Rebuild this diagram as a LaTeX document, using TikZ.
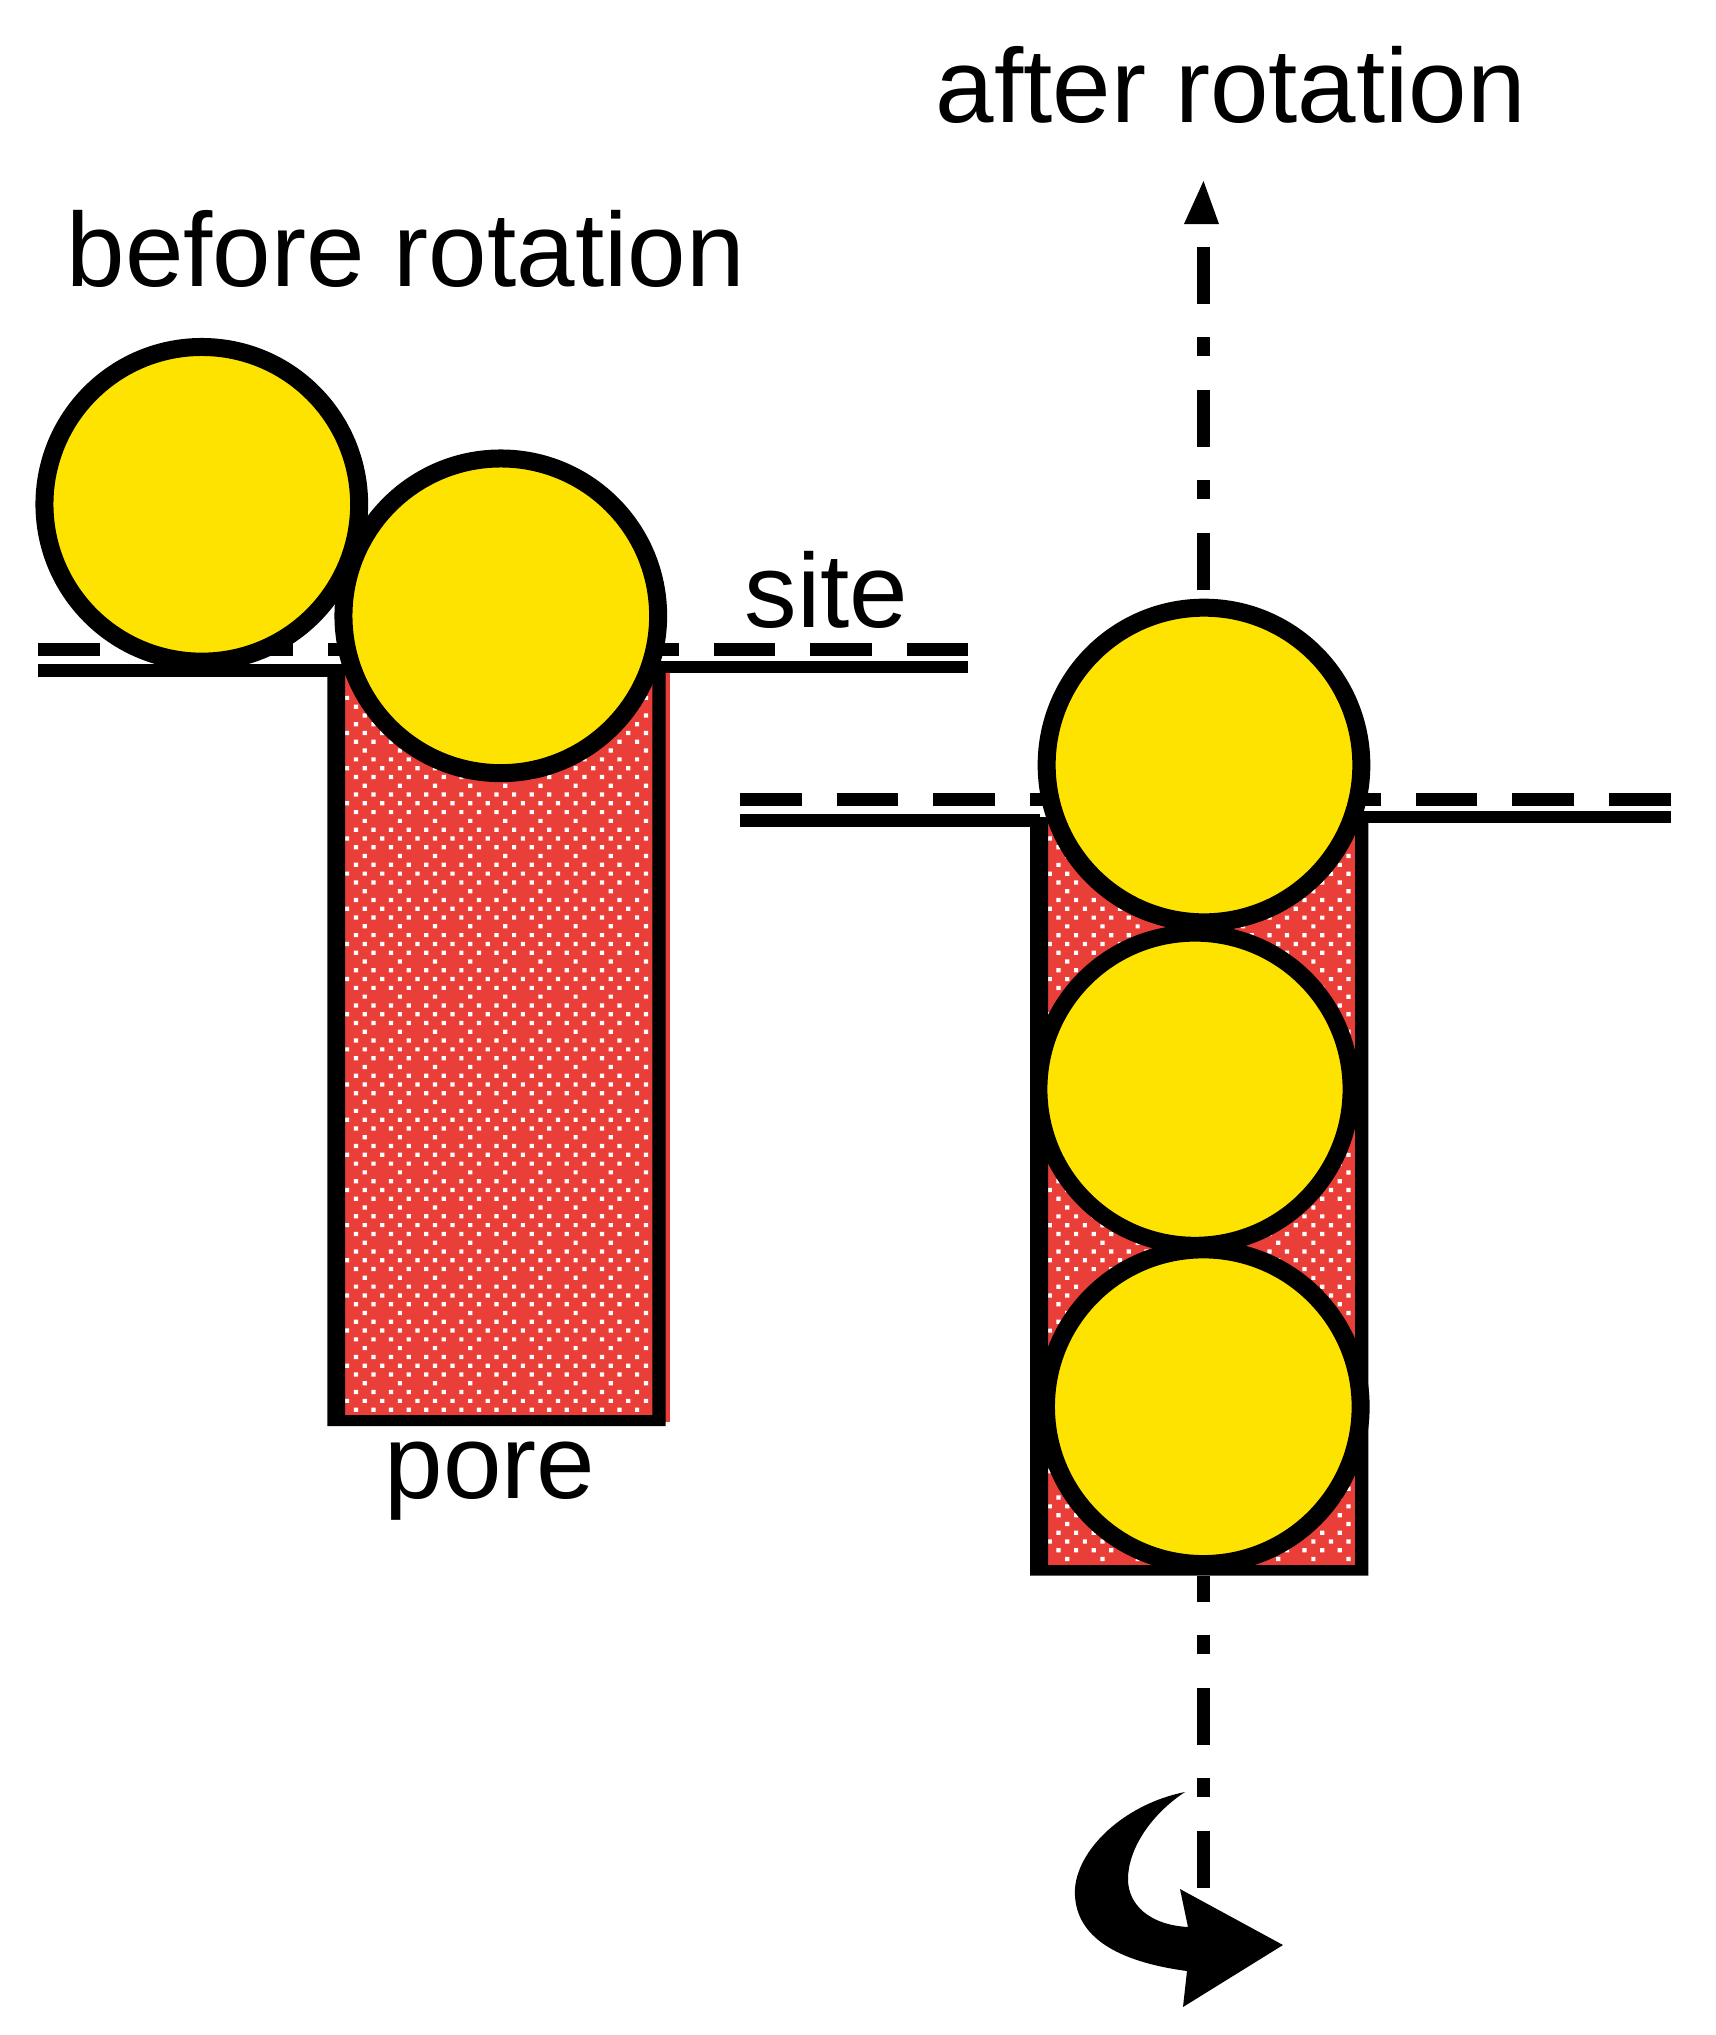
\documentclass[tikz,border=0pt]{standalone}
\usepackage{fontspec}
\setmainfont{Liberation Sans}
\definecolor{porered}{HTML}{EA3F39}
\definecolor{ballyellow}{HTML}{FFE300}
\tikzset{
    ball/.style={circle, draw=black, fill=ballyellow, line width=0.18cm, minimum size=3.145cm, inner sep=0},
    lab/.style={anchor=base west, inner sep=0, font=\fontsize{29.9pt}{36pt}\selectfont},
    siteline/.style={line width=0.126cm},
    dashline/.style={line width=0.13cm, dash pattern=on 0.615cm off 0.35cm},
    axisline/.style={line width=0.13cm, dash pattern=on 0.57cm off 0.34cm on 0.19cm off 0.33cm}
}
\newcommand{\poredots}[4]{
    \fill[white] \foreach \i in {0,...,#3} { \foreach \j in {0,...,#4} {
        \foreach \dx/\dy in {0/0,-8.8/8.8,8.8/8.8,-17.6/17.6,0/17.6,-8.8/26.4,8.8/26.4} {
            (#1+\j*35.15+\dx-2.1,#2+\i*35.15+\dy-2.1) rectangle ++(4.2,4.2)
        } } };
}
\begin{document}
\begin{tikzpicture}[x=0.01cm,y=-0.01cm]
        \useasboundingbox (0,0) rectangle (1716,2035);

        % left pore
        \fill[porered] (345,668) rectangle (670,1421.7);
        \begin{scope}
            \clip (345,668) rectangle (652.3,1413.3);
            \poredots{364.7}{645.1}{21}{8}
        \end{scope}
        \fill[black] (327.3,664) -- (345,664) -- (345,1415) -- (652.3,1415) -- (652.3,664)
            -- (665.7,664) -- (665.7,1426) -- (327.3,1426) -- cycle;

        % right pore
        \fill[porered] (1048,820) rectangle (1355,1566);
        \begin{scope}
            \clip (1048,820) rectangle (1355,1563.3);
            \poredots{1067.3}{820.9}{21}{8}
        \end{scope}
        \fill[black] (1030,817) -- (1048,817) -- (1048,1565) -- (1355,1565) -- (1355,817)
            -- (1368.3,817) -- (1368.3,1575.7) -- (1030,1575.7) -- cycle;

        % site lines
        \coordinate (dashAl) at (38,649.5);
        \coordinate (dashAr) at (968,649.5);
        \coordinate (siteAl) at (38,670.5);
        \coordinate (siteAm) at (340,670.5);
        \coordinate (siteAn) at (660,667);
        \coordinate (siteAr) at (968,667);
        \draw[dashline] (dashAl) -- (dashAr);
        \draw[siteline] (siteAl) -- (siteAm);
        \draw[siteline] (siteAn) -- (siteAr);

        \coordinate (dashBl) at (740,799);
        \coordinate (dashBr) at (1671,799);
        \coordinate (siteBl) at (740,820.5);
        \coordinate (siteBm) at (1040,820.5);
        \coordinate (siteBn) at (1360,817);
        \coordinate (siteBr) at (1671,817);
        \draw[dashline] (dashBl) -- (dashBr);
        \draw[siteline] (siteBl) -- (siteBm);
        \draw[siteline] (siteBn) -- (siteBr);

        % axis
        \coordinate (axisAa) at (1203.5,590);
        \coordinate (axisAb) at (1203.5,247);
        \coordinate (axisBa) at (1203.5,1888);
        \coordinate (axisBb) at (1203.5,1576);
        \draw[axisline] (axisAa) -- (axisAb);
        \draw[axisline] (axisBa) -- (axisBb);
        \fill[black] (1203.5,181) -- (1219,224) -- (1184,224) -- cycle;

        % balls
        \node[ball] (ballA) at (201.8,504.3) {};
        \node[ball] (ballB) at (500.8,615.8) {};
        \node[ball] (ballC) at (1204,765) {};
        \node[ball, line width=0.17cm, minimum size=3.12cm] (ballD) at (1195,1089.2) {};
        \node[ball] (ballE) at (1203.3,1406.7) {};

        % rotation sign
        \fill[black] (1185,1792) .. controls (1120,1805) and (1072,1855) .. (1075,1896)
            .. controls (1077,1930) and (1105,1960) .. (1187,1971)
            -- (1183,2007) -- (1283,1945) -- (1180,1889) -- (1188,1927)
            .. controls (1150,1925) and (1128,1905) .. (1128,1879)
            .. controls (1128,1850) and (1150,1815) .. cycle;

        \node[lab] (before) at (66,286) {before rotation};
        \node[lab] (after) at (935,122) {after rotation};
        \node[lab] (site) at (744,627) {site};
        \node[lab] (pore) at (384,1498) {pore};
\end{tikzpicture}
\end{document}
